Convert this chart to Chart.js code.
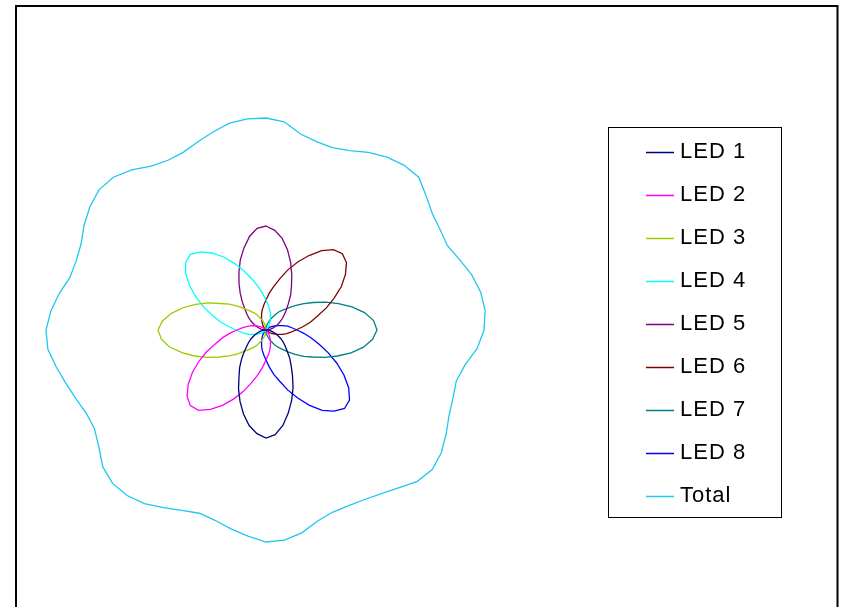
<!DOCTYPE html>
<html>
<head>
<meta charset="utf-8">
<script src="https://cdn.jsdelivr.net/npm/chart.js@4.4.1/dist/chart.umd.min.js"></script>
<style>
  html, body { margin: 0; padding: 0; background: #fff; }
  #wrap { width: 841px; height: 607px; }
</style>
</head>
<body>
<div id="wrap"><canvas id="ledChart" width="841" height="607"></canvas></div>
<script>
// bearing of each sample, degrees clockwise from top
const angles = [0,5,10,15,20,25,30,35,40,45,50,55,60,65,70,75,80,85,90,95,100,105,110,115,
  120,125,130,135,140,145,150,155,160,165,170,175,180,185,190,195,200,205,210,215,220,225,230,235,
  240,245,250,255,260,265,270,275,280,285,290,295,300,305,310,315,320,325,330,335,340,345,350,355];

const seriesNames = ['LED 1', 'LED 2', 'LED 3', 'LED 4', 'LED 5', 'LED 6', 'LED 7', 'LED 8', 'Total'];
const seriesColors = ['#000080', '#ff00ff', '#99cc00', '#00ffff', '#800080', '#800000', '#008080', '#0000ff', '#1ec8f0'];

// intensity per bearing (arbitrary units)
const led1 = [0,0,0,0,0,0,0,0,0,0,0,0,0,0,0,0,0,0,0,
  1,2.5,3.5,5,6.5,8.5,10.5,12.5,15,18.5,22,26.5,32,37.5,43,48.5,52.5,
  54,
  52,48.5,43.5,38,32.5,27,23,19,15.5,12.5,10.5,8.5,6.5,5,3.5,2.5,1,
  0,0,0,0,0,0,0,0,0,0,0,0,0,0,0,0,0,0];
const led2 = [0,0,0,0,0,0,0,0,0,0,0,0,0,0,0,0,0,0,0,0,0,0,0,0,0,0,0,0,
  1,2.5,3.5,5,6.5,8.5,10.5,12.5,15,18.5,22.5,27,32.5,38,43.5,48.5,52.5,
  53.5,
  51.5,47.5,42.5,37,31.5,26,22,18,14.5,12,10,8,6.5,5,3.5,2,1,
  0,0,0,0,0,0,0,0,0];
const led3 = [0,0,0,0,0,0,0,0,0,0,0,0,0,0,0,0,0,0,0,0,0,0,0,0,0,0,0,0,0,0,0,0,0,0,0,0,0,
  1,2.5,3.5,5,6.5,8.5,10.5,12.5,15,18.5,22.5,27,32.5,38,43.5,49,52.5,
  54,
  52,48,43,37.5,32,26.5,22.5,18.5,15,12.5,10.5,8.5,6.5,5,3.5,2.5,1];
const led4 = [15,12.5,10.5,8.5,6.5,5,3.5,2.5,1,
  0,0,0,0,0,0,0,0,0,0,0,0,0,0,0,0,0,0,0,0,0,0,0,0,0,0,0,0,0,0,0,0,0,0,0,0,0,
  1,2.5,3.5,5,6.5,8.5,10.5,12.5,15,18.5,23,27.5,33,38.5,44,49,52.5,
  53.5,
  51,47,42,36.5,31,26,22,18];
const led5 = [52,
  50,46.5,41.5,36,30.5,25.5,21.5,17.5,14.5,12,10,8,6.5,5,3.5,2,1,
  0,0,0,0,0,0,0,0,0,0,0,0,0,0,0,0,0,0,0,0,0,0,0,0,0,0,0,0,0,0,0,0,0,0,0,0,0,
  1,2.5,3.5,5,6.5,8.5,10.5,12.5,15,18.5,22.5,27,32,37.5,42.5,47.5,51];
const led6 = [15,18.5,22,26.5,32,37.5,43,48.5,52.5,
  54,
  52.5,48.5,43.5,37.5,32,26.5,22.5,18.5,15,12.5,10.5,8.5,6.5,5,3.5,2.5,1,
  0,0,0,0,0,0,0,0,0,0,0,0,0,0,0,0,0,0,0,0,0,0,0,0,0,0,0,0,0,0,0,0,0,0,0,0,0,
  1,2.5,3.5,5,6.5,8.5,10.5,12.5];
const led7 = [0,
  1,2.5,3.5,5,6.5,8.5,11,13,15.5,19,23,27.5,33,38.5,44.5,50,54,
  55.5,
  53.5,49.5,44,38,32.5,27,23,19,15.5,12.5,10.5,8.5,6.5,5,3.5,2.5,1,
  0,0,0,0,0,0,0,0,0,0,0,0,0,0,0,0,0,0,0,0,0,0,0,0,0,0,0,0,0,0,0,0,0,0,0,0];
const led8 = [0,0,0,0,0,0,0,0,0,0,
  1,2.5,3.5,5,6.5,8.5,11,13,15.5,19,23,27.5,33,39,45,50.5,54.5,
  55.5,
  53,49,43.5,37.5,32,26.5,22.5,18.5,15,12.5,10.5,8.5,6.5,5,3.5,2.5,1,
  0,0,0,0,0,0,0,0,0,0,0,0,0,0,0,0,0,0,0,0,0,0,0,0,0,0,0];
const total = [106,104.5,99.5,97.5,97,99,102.5,105.5,107.5,108,104.5,101.5,100.5,100,103,106.5,109,110,
  109,106,101,98.5,99.5,101,104,107,108.5,107,103,100,98,97,97,99,103,105.5,
  106,103.5,101,98.5,97.5,99.5,102.5,106,108,108.5,106.5,102,99,99,101,103.5,106.5,109.5,
  110,108,105,101.5,101,102,105,107.5,109,108,104.5,100,98,98,100,102.5,105,106];

const seriesData = [led1, led2, led3, led4, led5, led6, led7, led8, total];

// axes frame + legend box drawn like the original figure
const frameLegend = {
    id: 'frameLegend',
    afterDraw(chart) {
        const ctx = chart.ctx;
        ctx.save();
        ctx.strokeStyle = '#000';
        ctx.lineWidth = 2;
        ctx.strokeRect(16, 6, 821.5, 700);

        ctx.lineWidth = 1;
        ctx.strokeRect(608.5, 127.5, 173, 390);

        ctx.font = '22px "Liberation Sans", Arial, sans-serif';
        ctx.letterSpacing = '1px';
        ctx.textBaseline = 'middle';
        ctx.textAlign = 'left';
        chart.data.datasets.forEach((ds, i) => {
            const y = 152 + i * 43;
            ctx.strokeStyle = ds.borderColor;
            ctx.lineWidth = 1.5;
            ctx.beginPath();
            ctx.moveTo(646, y + 0.5);
            ctx.lineTo(674, y + 0.5);
            ctx.stroke();
            ctx.fillStyle = '#000';
            ctx.fillText(ds.label, 680, y);
        });
        ctx.restore();
    }
};

const ctx = document.getElementById('ledChart').getContext('2d');
new Chart(ctx, {
    type: 'radar',
    data: {
        labels: angles,
        datasets: seriesNames.map((name, i) => ({
            label: name,
            data: seriesData[i],
            borderColor: seriesColors[i],
            borderWidth: 1.3,
            fill: false,
            pointRadius: 0,
            pointHitRadius: 0,
            tension: 0
        }))
    },
    options: {
        responsive: false,
        animation: false,
        layout: {
            padding: { left: 16, right: 325, top: 80, bottom: 27 }
        },
        scales: {
            r: {
                display: false,
                min: 0,
                max: 125,
                startAngle: 0
            }
        },
        plugins: {
            legend: { display: false },
            tooltip: { enabled: false }
        }
    },
    plugins: [frameLegend]
});
</script>
</body>
</html>
